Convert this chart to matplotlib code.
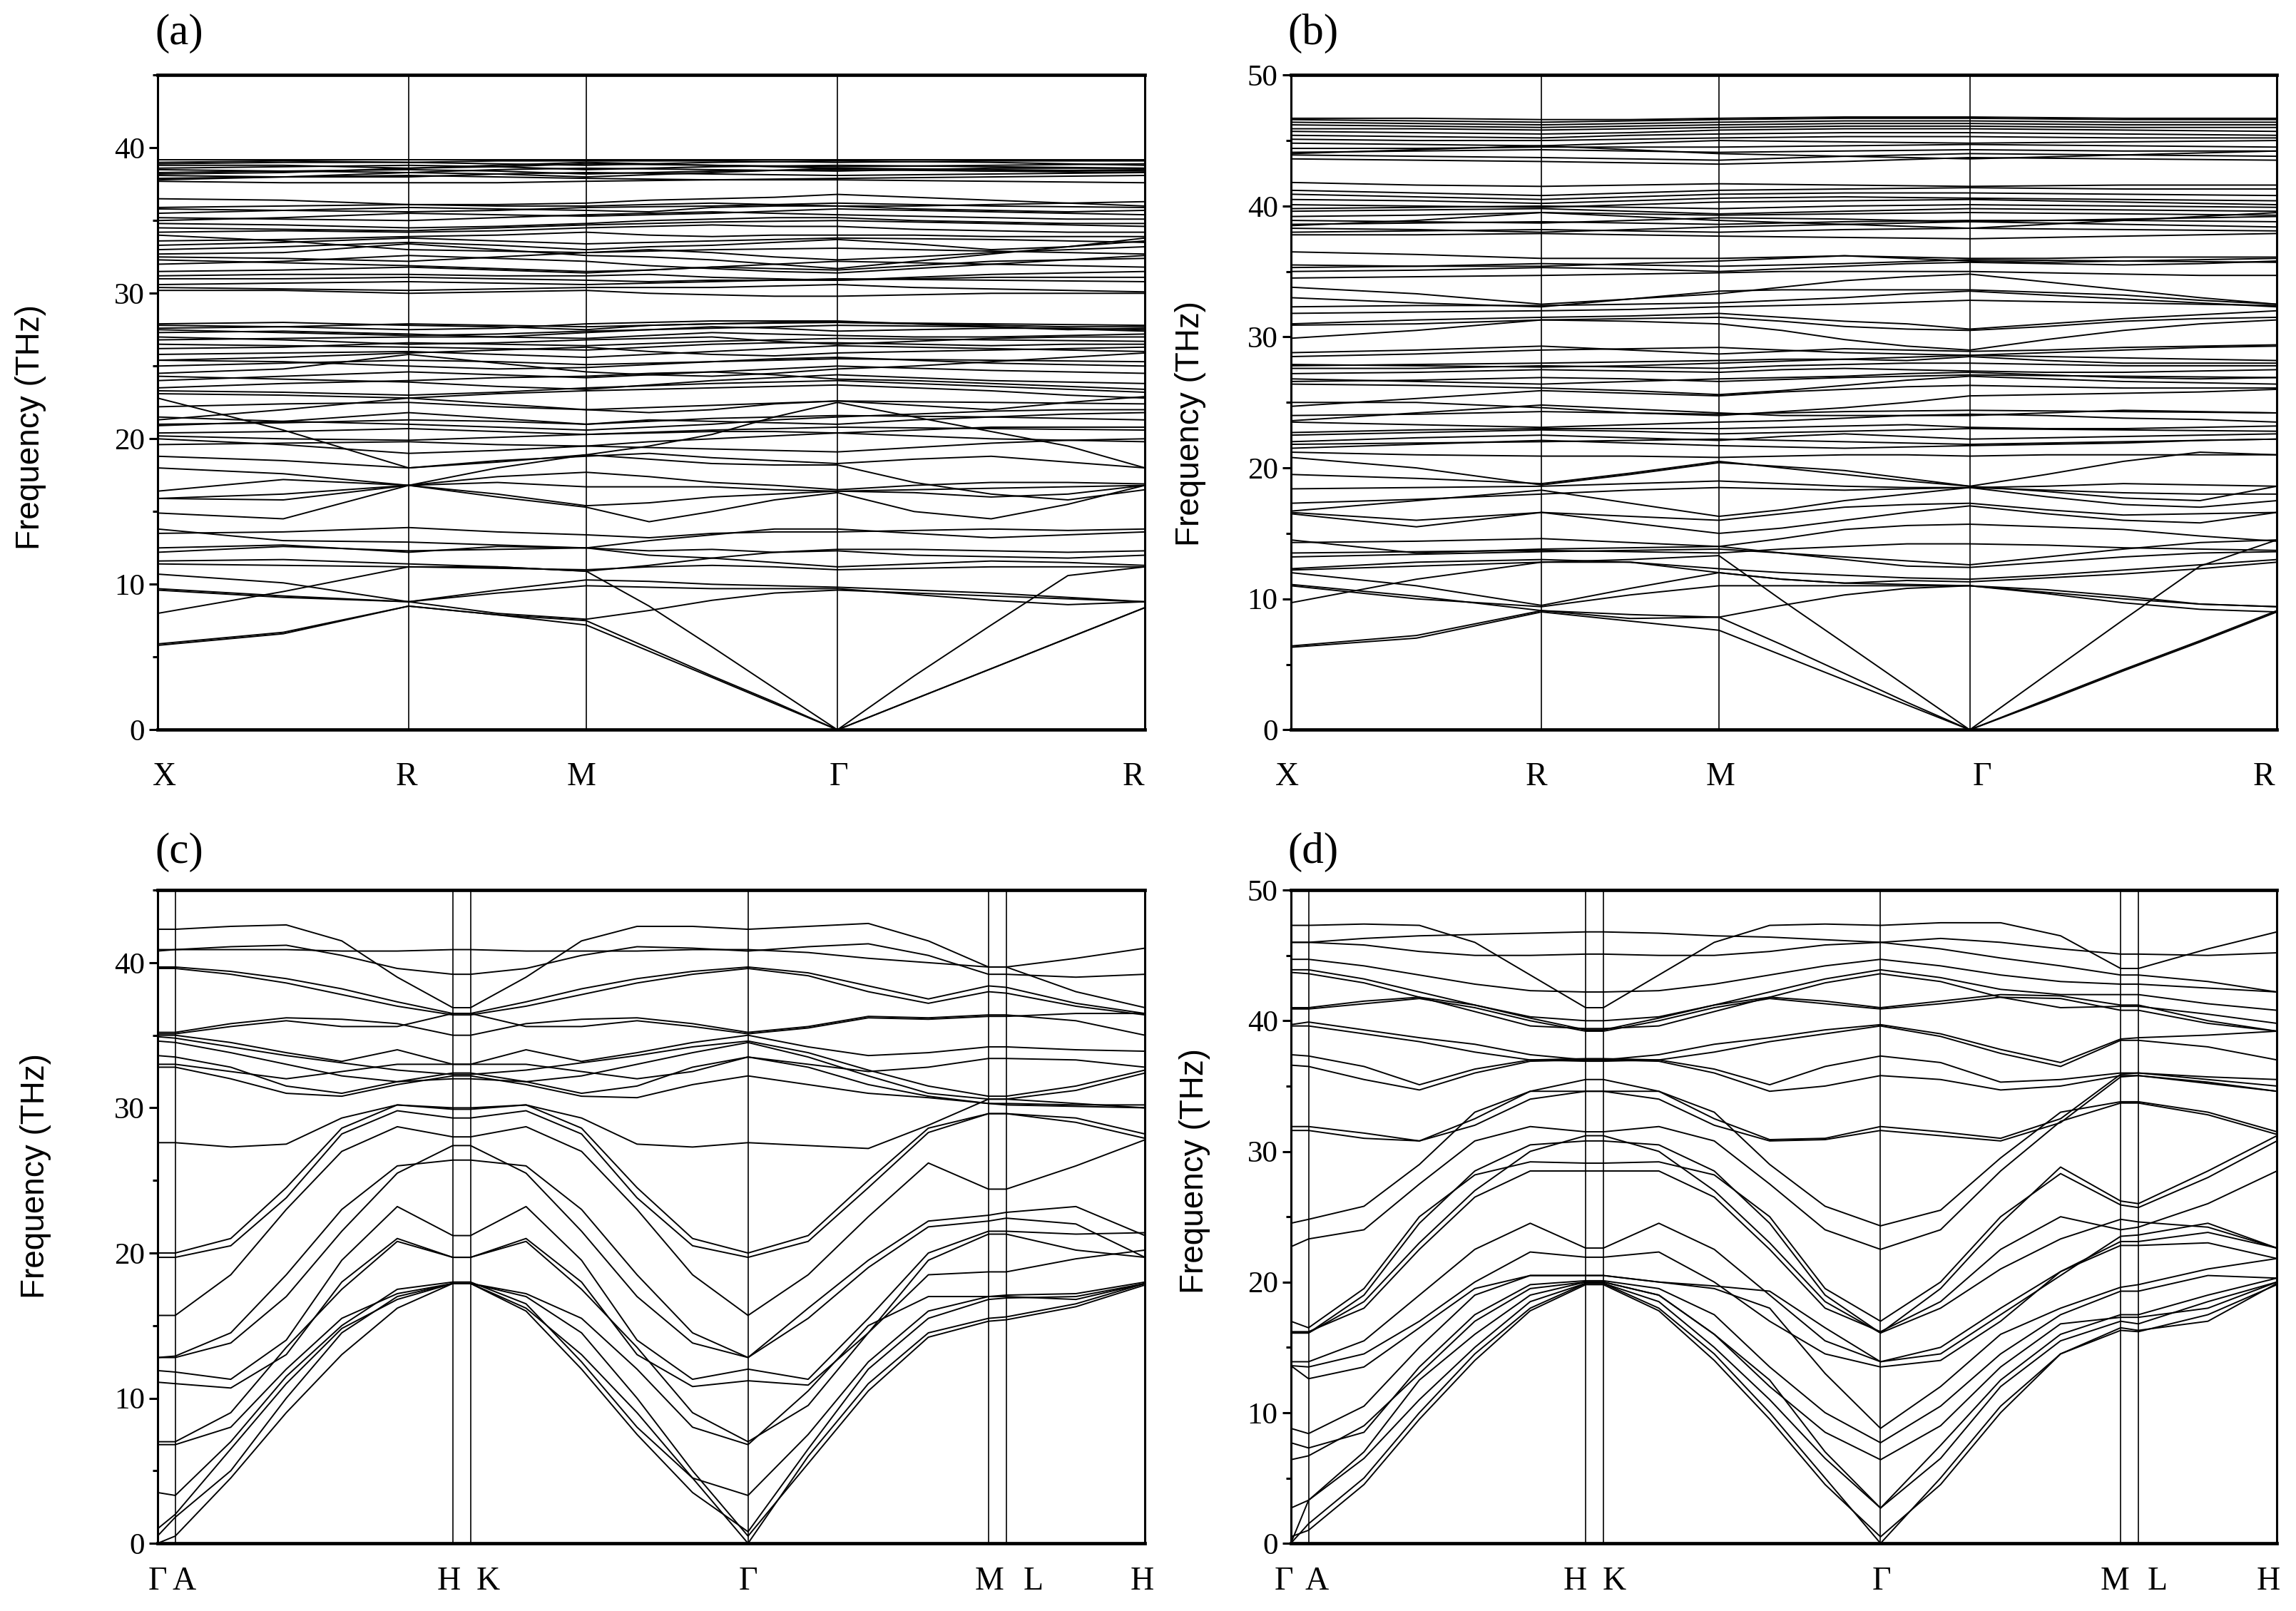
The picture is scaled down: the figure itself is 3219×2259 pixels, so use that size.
import matplotlib
matplotlib.use("Agg")
import matplotlib.pyplot as plt
from matplotlib.ticker import MultipleLocator

plt.rcParams['font.family'] = ['Liberation Serif', 'DejaVu Serif']

# ---------------- panel (a)/(b): cubic path X-R-M-G-R ----------------
k_cub_sym = [0.0, 0.707, 1.207, 1.914, 2.780]
lab_cub = ['X', 'R', 'M', 'Γ', 'R']
lab_cub_pos_a = [0.007, 0.252, 0.429, 0.690, 0.988]
lab_cub_pos_b = [-0.004, 0.249, 0.436, 0.701, 0.987]
k13 = [0.0, 0.354, 0.707, 0.957, 1.207, 1.384, 1.561, 1.737, 1.914, 2.130, 2.347, 2.563, 2.780]
k9 = [0.0, 0.354, 0.707, 0.957, 1.207, 1.561, 1.914, 2.347, 2.780]

bands_a = [
    [5.8,6.6,8.5,7.9,7.2,5.4,3.6,1.8,0.0,2.1,4.2,6.3,8.4],
    [5.9,6.7,8.5,7.9,7.5,5.6,3.7,1.9,0.0,2.1,4.2,6.3,8.4],
    [8.0,9.5,11.2,11.2,10.9,8.5,5.7,2.85,0.0,3.7,7.2,10.6,11.2],
    [9.7,9.2,8.8,9.4,9.9,9.8,9.7,9.7,9.7,9.3,8.9,8.6,8.8],
    [9.6,9.1,8.8,9.6,10.3,10.2,10.0,9.9,9.8,9.6,9.4,9.1,8.8],
    [10.7,10.1,8.8,8.0,7.6,8.2,8.9,9.4,9.6,9.4,9.2,9.0,8.8],
    [11.4,11.3,11.2,11.1,11.0,11.2,11.3,11.2,11.0,11.1,11.2,11.2,11.2],
    [11.6,11.7,11.4,11.2,10.9,11.3,11.8,11.5,11.2,11.4,11.6,11.5,11.3],
    [12.2,12.6,12.3,12.4,12.5,12.3,12.4,12.2,12.3,12.0,11.9,11.8,12.0],
    [12.5,12.7,12.2,12.6,12.5,12.0,11.8,12.2,12.4,12.4,12.3,12.2,12.3],
    [13.5,13.6,13.9,13.6,13.4,13.2,13.5,13.6,13.6,13.7,13.8,13.7,13.8],
    [13.8,13.0,12.9,12.7,12.5,13.0,13.4,13.8,13.8,13.5,13.2,13.4,13.6],
    [14.9,14.5,16.8,16.0,15.3,14.3,15.0,15.8,16.3,15.0,14.5,15.5,16.8],
    [15.9,15.8,16.8,16.2,15.4,15.6,16.0,16.2,16.4,16.3,16.0,16.2,16.8],
    [15.9,16.2,16.8,17.0,16.7,16.7,16.7,16.5,16.4,16.5,16.6,16.7,16.8],
    [16.4,17.2,16.8,17.4,17.7,17.4,17.0,16.8,16.5,16.8,17.0,17.0,16.9],
    [18.0,17.6,16.8,18.0,18.9,18.6,18.3,18.2,18.2,17.0,16.2,15.8,16.5],
    [18.8,18.5,18.0,18.5,18.8,19.0,18.7,18.5,18.3,18.6,18.8,18.4,18.0],
    [19.6,19.7,19.8,19.6,19.5,19.4,19.3,19.2,19.1,19.4,19.7,19.9,20.0],
    [20.4,20.5,20.7,20.5,20.3,20.4,20.5,20.5,20.4,20.6,20.8,20.8,20.8],
    [20.9,21.2,21.8,21.4,21.0,21.3,21.2,21.1,21.0,21.3,21.5,21.7,21.8],
    [21.3,22.0,22.8,22.4,22.0,21.8,22.0,22.4,22.6,22.3,22.0,22.5,22.9],
    [22.8,20.6,18.0,18.4,18.9,19.5,20.3,21.5,22.5,21.5,20.5,19.5,18.0],
    [23.1,23.0,22.8,23.1,23.3,23.4,23.5,23.6,23.7,23.5,23.3,23.0,22.8],
    [24.3,24.1,23.9,23.6,23.4,23.7,24.0,24.2,24.4,24.2,24.0,23.9,23.8],
    [24.5,24.8,25.8,25.2,24.6,24.4,24.3,24.5,24.8,25.0,25.3,25.6,25.9],
    [25.4,25.3,25.0,24.8,24.9,25.1,25.3,25.5,25.6,25.4,25.2,25.1,25.0],
    [25.4,25.6,25.9,26.1,26.3,26.0,25.8,25.7,25.9,26.0,26.1,26.2,26.3],
    [26.5,26.4,26.3,26.2,26.1,26.3,26.5,26.6,26.6,26.5,26.4,26.5,26.5],
    [26.8,26.9,27.0,27.0,26.9,27.1,27.3,27.2,27.1,27.0,27.0,27.1,27.2],
    [27.3,27.4,27.2,27.0,27.3,27.5,27.7,27.6,27.4,27.5,27.6,27.6,27.5],
    [27.8,27.7,27.5,27.6,27.9,28.0,28.1,28.1,28.1,27.9,27.8,27.7,27.7],
    [27.9,28.0,27.8,27.7,27.5,27.8,27.9,28.0,28.0,27.9,27.7,27.5,27.6],
    [27.0,26.8,26.5,26.6,26.8,26.9,27.0,26.7,26.5,26.7,26.9,27.0,27.0],
    [23.5,23.8,24.0,24.2,24.3,24.5,24.6,24.4,24.1,24.0,23.8,23.6,23.4],
    [21.5,21.2,21.0,20.8,20.6,20.8,21.0,21.3,21.5,21.7,21.9,22.0,22.0],
    [20.0,19.6,19.0,19.2,19.5,19.8,20.0,20.2,20.4,20.2,20.0,19.9,19.8],
    [30.2,30.2,30.0,30.1,30.2,30.0,29.9,29.8,29.8,29.9,30.0,30.0,30.0],
    [30.4,30.3,30.2,30.3,30.4,30.4,30.4,30.5,30.6,30.4,30.3,30.2,30.1],
    [31.0,31.0,31.1,31.0,30.9,30.8,30.9,30.9,30.9,31.0,31.1,31.1,31.1],
    [31.2,31.3,31.3,31.2,31.2,31.3,31.1,31.0,30.9,31.1,31.3,31.4,31.5],
    [32.3,32.1,31.9,31.7,31.5,31.6,31.8,31.7,31.6,31.9,32.2,32.3,32.4],
    [32.7,32.8,33.4,33.0,32.6,32.5,32.3,32.0,31.7,32.2,32.7,33.2,33.6],
    [33.0,33.2,33.5,33.3,33.0,33.2,33.3,33.5,33.7,33.4,33.0,33.2,33.8],
    [33.6,33.7,33.9,34.0,34.2,34.0,33.9,34.0,34.0,34.0,33.9,33.9,33.9],
    [34.2,34.3,34.2,34.3,34.5,34.6,34.7,34.6,34.6,34.4,34.3,34.2,34.2],
    [34.8,34.7,34.5,34.6,34.8,35.0,35.1,35.2,35.2,35.0,34.9,34.8,34.8],
    [35.2,35.1,35.0,35.2,35.4,35.5,35.6,35.5,35.4,35.3,35.2,35.1,35.1],
    [35.5,35.7,35.9,35.8,35.7,35.6,35.9,36.0,36.0,35.8,35.7,35.6,35.7],
    [35.9,36.0,36.1,36.1,36.2,36.4,36.5,36.6,36.8,36.6,36.4,36.2,36.0],
    [36.5,36.4,36.1,36.0,36.0,36.1,36.2,36.1,36.0,36.0,36.1,36.2,36.3],
    [34.0,33.6,33.0,32.9,32.8,33.0,32.8,32.5,32.3,32.5,32.8,33.0,33.2],
    [32.0,32.2,32.6,32.4,32.2,31.9,31.7,31.5,31.4,31.7,32.0,32.3,32.6],
]
flat_a = [
    [37.7,37.6,37.6,37.6,37.7,37.8,37.8,37.7,37.6],
    [37.9,38.0,38.1,38.0,37.9,37.8,37.9,38.0,38.1],
    [38.1,38.0,38.0,38.2,38.3,38.2,38.1,38.2,38.3],
    [38.3,38.4,38.5,38.4,38.2,38.4,38.5,38.4,38.3],
    [38.5,38.4,38.3,38.5,38.6,38.5,38.4,38.6,38.6],
    [38.6,38.7,38.8,38.7,38.5,38.7,38.8,38.7,38.6],
    [38.8,38.8,38.6,38.7,38.9,38.8,38.7,38.8,38.9],
    [38.9,39.0,39.0,38.9,38.8,39.0,39.1,39.0,38.8],
    [39.0,39.1,39.0,39.1,39.1,39.1,39.0,39.1,39.1],
    [39.2,39.2,39.2,39.2,39.2,39.2,39.2,39.2,39.2],
    [37.8,38.0,38.3,38.2,38.0,38.3,38.6,38.5,38.4],
    [38.2,38.3,38.6,38.8,39.0,38.8,38.6,38.4,38.5],
    [20.2,20.0,19.9,20.1,20.3,20.6,20.8,20.7,20.6],
    [21.0,21.1,21.3,21.2,21.0,21.4,21.6,21.5,21.3],
    [22.2,22.4,22.5,22.2,22.0,22.3,22.6,22.5,22.4],
    [23.3,23.2,23.0,23.2,23.5,23.8,24.0,23.6,23.2],
    [24.0,24.3,24.6,24.4,24.2,24.6,25.0,24.7,24.5],
    [25.0,25.2,25.4,25.3,25.1,25.3,25.5,25.4,25.3],
    [25.8,25.9,26.0,25.8,25.6,26.0,26.4,26.2,26.0],
    [26.2,26.3,26.6,26.5,26.4,26.7,26.9,26.8,26.7],
    [27.5,27.3,27.1,27.2,27.4,27.6,27.8,27.7,27.4],
    [27.6,27.7,27.9,27.8,27.7,27.9,28.0,27.9,27.8],
    [30.6,30.7,30.8,30.7,30.6,30.8,31.0,30.9,30.8],
    [31.5,31.6,31.8,31.6,31.4,31.8,32.2,32.0,31.8],
    [32.5,32.4,32.2,32.5,32.8,33.0,33.1,32.9,32.7],
    [33.3,33.5,33.8,33.6,33.4,33.6,33.8,33.7,33.5],
    [34.5,34.4,34.3,34.5,34.7,34.9,35.0,34.8,34.6],
    [35.0,35.2,35.5,35.4,35.3,35.5,35.8,35.6,35.4],
    [35.8,35.7,35.6,35.7,35.9,36.0,36.2,36.0,35.9],
]

bands_b = [
    [6.3,7.0,9.0,8.3,7.6,5.7,3.8,1.9,0.0,2.2,4.5,6.7,9.0],
    [6.4,7.2,9.1,8.8,8.6,6.5,4.3,2.1,0.0,2.3,4.6,6.8,9.1],
    [9.7,11.5,12.8,13.0,13.3,9.9,6.6,3.3,0.0,4.2,8.4,12.5,14.5],
    [11.0,10.0,9.4,10.3,11.0,11.0,11.0,11.0,11.0,10.5,10.0,9.6,9.4],
    [11.1,10.2,9.1,8.5,8.6,9.5,10.3,10.8,11.0,10.4,9.7,9.2,9.0],
    [12.0,11.0,9.5,10.8,12.0,11.5,11.2,11.1,11.0,10.7,10.2,9.6,9.4],
    [12.2,12.5,12.8,12.8,12.0,11.5,11.2,11.4,11.3,11.6,11.9,12.3,12.8],
    [12.3,12.8,13.0,12.8,12.3,12.0,11.8,11.6,11.5,11.8,12.2,12.6,13.0],
    [13.2,13.4,13.6,13.7,13.8,13.5,13.0,12.5,12.4,12.8,13.2,13.5,13.6],
    [13.5,13.6,13.7,13.6,13.5,13.8,14.0,14.2,14.2,14.1,13.9,13.8,13.7],
    [14.3,14.4,14.6,14.3,14.0,13.5,13.2,12.9,12.6,13.2,13.8,14.3,14.5],
    [14.5,13.5,13.8,13.9,14.0,14.6,15.3,15.6,15.7,15.5,15.3,14.8,14.4],
    [16.5,15.5,16.6,16.3,16.0,16.5,17.0,17.2,17.3,16.8,16.4,16.5,16.6],
    [16.6,16.0,16.6,15.8,15.0,15.4,16.0,16.6,17.1,16.5,16.0,15.8,16.6],
    [16.7,17.5,18.3,17.3,16.3,16.8,17.5,18.0,18.5,17.8,17.2,17.0,17.5],
    [17.3,17.6,18.0,18.3,18.5,18.4,18.3,18.4,18.5,18.3,18.1,18.0,18.0],
    [18.4,18.5,18.6,18.8,19.0,18.8,18.6,18.5,18.5,18.6,18.8,18.7,18.6],
    [19.5,19.2,18.8,19.6,20.5,20.0,19.5,19.0,18.6,19.5,20.5,21.2,21.0],
    [20.8,20.0,18.7,19.5,20.4,20.1,19.8,19.2,18.6,18.2,17.7,17.5,18.6],
    [21.2,21.0,20.9,20.9,20.8,20.9,21.0,21.0,20.9,21.0,21.0,21.0,21.0],
    [21.5,21.8,22.1,21.9,21.7,21.6,21.5,21.6,21.7,21.8,21.9,22.1,22.2],
    [22.0,22.3,22.5,22.3,22.1,22.4,22.6,22.4,22.2,22.3,22.4,22.5,22.6],
    [22.7,22.9,23.0,23.0,23.0,23.1,23.2,23.3,23.1,23.0,23.0,23.1,23.2],
    [23.5,23.3,23.1,23.3,23.5,23.6,23.8,24.0,24.1,24.0,23.8,23.7,23.5],
    [23.6,24.2,24.8,24.5,24.2,24.0,24.0,24.0,24.0,24.2,24.4,24.3,24.2],
    [24.7,25.3,25.9,25.7,25.5,25.8,26.0,26.2,26.3,26.2,26.1,26.1,26.1],
    [25.0,25.0,24.6,24.2,24.0,24.3,24.6,25.0,25.5,25.6,25.7,25.8,26.0],
    [26.4,26.3,26.1,25.9,25.6,25.9,26.3,26.7,27.0,26.8,26.6,26.5,26.4],
    [26.8,26.6,26.4,26.6,26.8,26.9,27.0,27.2,27.3,27.1,26.9,26.8,26.9],
    [27.2,27.3,27.5,27.4,27.3,27.5,27.6,27.5,27.4,27.3,27.3,27.4,27.5],
    [27.6,27.6,27.8,27.7,27.6,27.8,27.9,28.0,28.0,27.9,27.8,27.8,27.8],
    [27.8,27.9,28.0,28.1,28.2,28.3,28.3,28.2,28.5,28.2,28.0,28.0,28.0],
    [28.5,28.7,29.0,29.1,29.2,29.0,28.8,28.7,28.6,28.8,29.0,29.2,29.3],
    [28.8,29.0,29.3,29.0,28.7,28.9,29.1,29.0,28.9,29.0,29.2,29.3,29.4],
    [29.9,30.5,31.3,31.2,31.0,30.5,29.8,29.3,29.0,29.8,30.5,31.0,31.3],
    [30.9,31.0,31.3,31.4,31.5,31.2,30.8,30.6,30.5,30.8,31.2,31.4,31.5],
    [31.0,31.3,31.5,31.6,31.8,31.5,31.2,31.0,30.6,31.0,31.4,31.7,32.0],
    [32.3,32.4,32.4,32.5,32.6,32.8,33.0,33.3,33.5,33.2,32.9,32.6,32.3],
    [33.0,32.6,32.3,32.9,33.5,33.6,33.6,33.6,33.6,33.4,33.2,32.8,32.5],
    [33.8,33.3,32.5,32.9,33.3,33.8,34.3,34.6,34.8,34.2,33.6,33.0,32.5],
    [34.5,34.6,34.7,34.8,34.9,35.0,35.0,35.0,35.0,34.9,34.8,34.7,34.7],
    [35.0,35.1,35.3,35.2,35.0,35.2,35.4,35.6,35.7,35.6,35.5,35.6,35.8],
    [35.5,35.4,35.4,35.6,35.8,36.0,36.2,36.0,35.8,35.7,35.8,35.9,36.0],
    [36.5,36.3,36.0,36.0,36.0,36.1,36.2,36.1,36.0,36.0,36.1,36.1,36.1],
]
flat_b = [
    [37.8,37.8,37.9,37.8,37.7,37.6,37.5,37.7,37.9],
    [38.0,38.1,38.2,38.1,38.0,38.2,38.3,38.2,38.1],
    [38.3,38.2,38.0,38.2,38.4,38.6,38.8,38.6,38.4],
    [38.6,38.7,38.8,38.7,38.6,38.8,38.9,38.9,38.8],
    [38.9,38.8,38.7,38.9,39.1,39.0,38.8,39.0,39.2],
    [39.2,39.3,39.5,39.4,39.3,39.4,39.5,39.4,39.3],
    [39.6,39.7,39.8,39.6,39.4,39.6,39.8,39.7,39.6],
    [39.8,39.9,40.0,39.9,39.8,40.0,40.1,40.0,39.9],
    [40.1,40.0,39.9,40.1,40.3,40.4,40.5,40.3,40.1],
    [40.5,40.4,40.2,40.4,40.6,40.7,40.6,40.5,40.4],
    [40.9,40.7,40.5,40.7,40.9,41.0,41.0,40.9,40.8],
    [41.2,41.0,40.8,41.0,41.2,41.3,41.4,41.3,41.3],
    [41.8,41.6,41.5,41.6,41.7,41.6,41.5,41.6,41.6],
    [38.5,38.9,39.5,39.2,38.9,38.6,38.3,38.9,39.5],
    [43.6,43.5,43.4,43.3,43.2,43.4,43.7,43.6,43.5],
    [43.9,43.8,43.7,43.6,43.5,43.8,44.0,43.9,43.8],
    [44.1,44.2,44.3,44.2,44.1,44.2,44.3,44.2,44.2],
    [44.4,44.4,44.5,44.5,44.5,44.6,44.7,44.6,44.5],
    [44.8,44.7,44.6,44.8,45.0,44.9,44.8,44.9,45.0],
    [45.1,45.0,45.0,45.1,45.2,45.3,45.3,45.2,45.2],
    [45.4,45.3,45.2,45.4,45.5,45.6,45.6,45.5,45.4],
    [45.7,45.6,45.5,45.6,45.8,45.9,45.9,45.8,45.7],
    [45.9,45.9,45.8,45.9,46.0,46.1,46.1,46.0,46.0],
    [46.2,46.1,46.0,46.1,46.2,46.3,46.3,46.2,46.2],
    [46.4,46.3,46.2,46.3,46.4,46.5,46.5,46.4,46.4],
    [46.6,46.5,46.4,46.5,46.6,46.7,46.7,46.6,46.6],
    [46.7,46.7,46.6,46.6,46.7,46.8,46.8,46.7,46.7],
    [44.0,44.3,44.6,44.3,44.0,43.8,43.6,43.9,44.2],
    [21.8,21.9,22.0,22.1,22.2,22.0,21.8,22.0,22.2],
    [22.5,22.7,22.9,22.8,22.6,22.8,23.0,22.9,22.8],
    [24.0,24.1,24.3,24.2,24.1,24.3,24.4,24.3,24.2],
    [26.6,26.7,26.9,26.8,26.6,26.9,27.1,27.0,26.9],
    [27.9,27.8,27.7,27.8,28.0,28.3,28.6,28.4,28.2],
    [35.3,35.4,35.6,35.5,35.4,35.6,35.9,35.8,35.7],
    [31.8,31.9,32.0,32.1,32.3,32.5,32.8,32.6,32.4],
]

# ---------------- panel (c)/(d): hexagonal path G-A-H-K-G-M-L-H ----------------
k_hex_sym = [0.0, 0.018, 0.299, 0.317, 0.598, 0.8415, 0.8595, 1.0]
lab_hex = ['Γ', 'A', 'H', 'K', 'Γ', 'M', 'L', 'H']
lab_hex_pos_c = [0.0, 0.027, 0.295, 0.335, 0.598, 0.842, 0.887, 0.997]
lab_hex_pos_d = [-0.007, 0.026, 0.288, 0.328, 0.599, 0.836, 0.879, 0.991]
k20 = [0.0, 0.018, 0.0742, 0.1304, 0.1866, 0.2428, 0.299, 0.317, 0.3732, 0.4294,
       0.4856, 0.5418, 0.598, 0.6589, 0.7198, 0.7806, 0.8415, 0.8595, 0.93, 1.0]

bands_c = [
    [42.3,42.3,42.5,42.6,41.5,39.0,36.9,36.9,39.0,41.5,42.5,42.5,42.3,42.5,42.7,41.5,39.7,39.7,38.0,36.9],
    [40.9,40.9,40.9,40.9,40.8,40.8,40.9,40.9,40.8,40.8,40.8,40.9,40.9,40.7,40.3,40.0,39.7,39.7,40.3,41.0],
    [40.8,40.9,41.1,41.2,40.5,39.6,39.2,39.2,39.6,40.5,41.1,41.0,40.8,41.1,41.3,40.5,39.2,39.2,39.0,39.2],
    [39.7,39.7,39.4,38.9,38.2,37.3,36.5,36.5,37.3,38.2,38.9,39.4,39.7,39.3,38.4,37.5,38.4,38.3,37.2,36.5],
    [39.6,39.6,39.2,38.6,37.8,37.0,36.4,36.4,37.0,37.8,38.6,39.2,39.6,39.1,38.0,37.2,38.0,37.9,37.0,36.4],
    [35.2,35.2,35.8,36.2,36.1,35.8,35.0,35.0,35.8,36.1,36.2,35.8,35.2,35.6,36.3,36.2,36.4,36.4,36.0,35.0],
    [35.1,35.1,35.6,36.0,35.6,35.6,36.5,36.5,35.6,35.6,36.0,35.6,35.1,35.5,36.2,36.1,36.3,36.3,36.5,36.5],
    [34.9,34.8,34.2,33.6,33.1,32.6,32.3,32.3,32.6,33.1,33.6,34.2,34.6,33.8,32.6,31.5,30.8,30.8,31.5,32.6],
    [34.6,34.5,33.8,33.0,32.2,31.8,32.0,32.0,31.8,32.2,33.0,33.8,34.5,33.5,32.2,31.0,30.6,30.6,31.2,32.4],
    [33.6,33.5,32.8,31.5,31.0,31.8,32.4,32.4,31.8,31.0,31.5,32.8,33.5,32.8,31.6,30.8,30.3,30.3,30.2,30.2],
    [32.8,32.8,32.0,31.0,30.8,31.6,32.2,32.2,31.6,30.8,30.7,31.6,32.2,31.6,31.0,30.7,30.3,30.2,30.1,30.0],
    [35.0,35.0,34.5,33.8,33.2,34.0,33.0,33.0,34.0,33.2,33.8,34.5,35.0,34.2,33.6,33.8,34.2,34.2,34.0,33.9],
    [33.0,33.0,32.5,32.0,32.5,33.0,33.0,33.0,33.0,32.5,32.0,32.5,33.5,33.0,32.5,32.8,33.4,33.4,33.3,32.8],
    [27.6,27.6,27.3,27.5,29.3,30.2,30.0,30.0,30.2,29.3,27.5,27.3,27.6,27.4,27.2,28.8,30.6,30.6,30.3,30.0],
    [20.0,20.0,21.0,24.5,28.6,30.2,29.9,29.9,30.2,28.6,24.5,21.0,20.0,21.2,25.0,28.6,29.6,29.6,29.3,28.2],
    [19.7,19.7,20.5,23.8,28.2,29.8,29.3,29.3,29.8,28.2,23.8,20.5,19.7,20.8,24.5,28.3,29.6,29.6,29.0,27.9],
    [15.7,15.7,18.5,23.0,27.0,28.7,28.0,28.0,28.7,27.0,23.0,18.5,15.7,18.5,22.5,26.2,24.4,24.4,26.0,27.8],
    [12.8,12.8,13.8,17.0,21.5,25.5,27.4,27.4,25.5,21.5,17.0,13.8,12.8,16.2,19.5,22.2,22.6,22.8,23.2,21.2],
    [12.8,12.9,14.5,18.5,23.0,26.0,26.4,26.4,26.0,23.0,18.5,14.5,12.8,15.5,19.0,21.8,22.2,22.4,22.0,19.7],
    [11.9,11.8,11.3,14.0,19.5,23.2,21.2,21.2,23.2,19.5,14.0,11.3,12.0,11.3,15.5,20.0,21.5,21.5,21.3,21.4],
    [11.1,11.0,10.7,13.0,18.0,21.0,19.7,19.7,21.0,18.0,13.0,10.8,11.2,10.9,14.5,19.5,21.3,21.3,20.2,19.7],
    [7.0,7.0,9.0,13.5,17.5,20.8,19.7,19.7,20.8,17.5,13.5,9.0,7.0,9.5,14.5,18.5,18.7,18.7,19.6,20.2],
    [6.8,6.8,8.0,12.0,15.5,17.2,17.9,17.9,17.2,15.5,12.0,8.0,6.8,10.5,15.0,17.0,17.0,17.0,16.8,17.9],
    [0.0,0.5,4.5,9.0,13.0,16.2,17.9,17.9,16.2,13.0,9.0,4.5,0.0,6.0,11.0,14.5,15.5,15.6,16.5,17.9],
    [0.5,1.8,5.0,10.0,14.5,17.0,17.9,17.9,17.0,14.5,10.0,5.0,0.5,5.5,10.5,14.2,15.3,15.4,16.3,17.8],
    [3.5,3.3,7.0,11.5,15.0,17.5,18.0,18.0,16.5,12.5,8.0,4.5,3.3,7.5,12.5,16.0,17.0,17.1,17.2,18.0],
    [1.0,2.0,6.5,11.0,14.8,16.8,17.9,17.9,16.0,12.0,7.5,3.5,0.8,6.5,12.0,15.5,16.8,16.9,17.0,17.9],
]

bands_d = [
    [47.3,47.3,47.4,47.3,46.0,43.5,41.0,41.0,43.5,46.0,47.3,47.4,47.3,47.5,47.5,46.5,44.0,44.0,45.5,46.8],
    [46.0,46.0,46.3,46.5,46.6,46.7,46.8,46.8,46.7,46.5,46.4,46.2,46.0,46.3,46.0,45.5,45.1,45.1,45.0,45.2],
    [46.0,46.0,45.8,45.3,45.0,45.0,45.1,45.1,45.0,45.0,45.3,45.8,46.0,45.5,44.8,44.2,43.5,43.5,43.0,42.2],
    [44.7,44.7,44.2,43.5,42.8,42.3,42.2,42.2,42.3,42.8,43.5,44.2,44.7,44.2,43.5,43.0,42.8,42.8,42.5,42.2],
    [43.9,43.9,43.2,42.2,41.2,40.3,40.0,40.0,40.3,41.2,42.2,43.2,43.9,43.3,42.4,42.0,42.0,42.0,41.3,40.8],
    [43.7,43.6,42.9,41.8,40.7,39.6,39.4,39.4,39.6,40.7,41.8,42.9,43.6,43.0,41.8,41.0,41.1,41.1,40.5,39.8],
    [41.0,41.0,41.5,41.8,41.2,40.2,39.3,39.3,40.2,41.2,41.8,41.5,41.0,41.5,42.0,41.9,41.2,41.2,40.0,39.2],
    [40.9,40.9,41.3,41.7,41.0,40.0,39.2,39.2,40.0,41.0,41.7,41.3,40.9,41.3,41.8,41.7,40.8,40.8,39.8,39.2],
    [39.7,39.9,39.3,38.7,38.2,37.4,37.0,37.0,37.4,38.2,38.7,39.3,39.7,39.0,37.8,36.8,38.6,38.7,38.9,39.2],
    [39.6,39.6,39.0,38.4,37.6,37.0,36.9,36.9,37.0,37.6,38.4,39.0,39.6,38.8,37.5,36.5,38.5,38.5,38.0,37.0],
    [37.4,37.3,36.5,35.1,36.3,37.0,37.1,37.1,37.0,36.3,35.1,36.5,37.3,36.8,35.3,35.5,36.0,36.0,35.5,35.0],
    [36.6,36.5,35.5,34.7,36.0,36.9,37.0,37.0,36.9,36.0,34.6,35.0,35.8,35.5,34.7,35.0,35.8,35.8,35.2,34.6],
    [31.9,31.9,31.4,30.8,32.5,34.6,35.5,35.5,34.6,32.5,30.9,31.0,31.9,31.5,31.0,32.5,35.9,36.0,35.7,35.5],
    [31.6,31.6,31.0,30.8,32.0,34.0,34.6,34.6,34.0,32.0,30.8,30.9,31.6,31.2,30.8,32.2,35.7,35.8,35.3,34.6],
    [24.5,24.8,25.8,29.0,33.0,34.6,34.6,34.6,34.6,33.0,29.0,25.8,24.3,25.5,29.5,33.0,33.8,33.8,33.0,31.5],
    [22.7,23.3,24.0,27.5,30.8,31.9,31.5,31.5,31.9,30.8,27.5,24.0,22.5,24.0,28.5,32.3,33.7,33.7,32.8,31.3],
    [16.1,16.1,18.5,23.0,27.0,30.0,31.2,31.2,30.0,27.0,23.0,18.5,16.1,18.0,21.0,23.3,24.8,24.6,24.2,22.6],
    [16.1,16.1,19.0,24.5,28.5,30.5,30.8,30.8,30.5,28.5,24.5,19.0,16.1,19.5,24.5,28.8,26.2,26.0,28.5,31.2],
    [17.0,16.5,19.5,25.0,28.2,29.2,29.1,29.1,29.2,28.2,25.0,19.5,17.0,20.0,25.0,28.3,25.9,25.7,28.0,30.8],
    [16.2,16.2,18.0,22.5,26.5,28.5,28.5,28.5,28.5,26.5,22.5,18.0,16.2,18.5,22.5,25.0,24.0,24.2,26.0,28.5],
    [13.9,13.9,15.5,19.0,22.5,24.5,22.6,22.6,24.5,22.5,19.0,15.5,13.9,14.5,17.5,20.5,23.5,23.6,24.5,22.6],
    [13.6,13.5,14.5,17.0,20.0,22.3,21.9,21.9,22.3,20.0,17.0,14.5,13.5,14.0,17.0,20.8,23.1,23.1,23.8,22.6],
    [13.6,12.6,13.5,16.5,19.5,20.5,20.5,20.5,20.0,19.7,19.3,16.5,13.9,15.0,18.0,20.8,22.8,22.8,23.0,21.8],
    [8.8,8.4,10.5,15.0,19.0,20.5,20.5,20.5,20.0,19.5,18.0,13.0,8.8,12.0,16.0,18.0,19.6,19.8,21.0,21.8],
    [7.7,7.3,8.5,13.5,17.5,19.8,20.1,20.1,19.5,17.5,13.5,10.0,7.7,10.5,14.5,17.5,19.3,19.3,20.5,20.3],
    [6.4,6.7,9.0,13.0,17.0,19.5,20.0,20.0,19.0,16.0,12.0,8.5,6.4,9.0,13.5,16.8,17.3,17.3,18.0,20.0],
    [0.0,1.5,5.0,10.0,14.5,18.0,19.9,19.9,18.0,14.5,10.0,5.0,0.0,5.0,10.5,14.5,16.5,16.3,17.0,19.9],
    [0.0,3.3,6.5,11.0,15.0,18.5,19.9,19.9,18.5,15.0,11.0,6.5,2.7,6.5,12.0,15.5,17.0,16.8,18.5,20.0],
    [2.7,3.3,7.0,12.5,16.0,19.0,20.0,20.0,19.0,16.0,12.5,7.0,2.7,7.5,12.5,16.0,17.5,17.5,19.0,20.3],
    [0.5,1.0,4.5,9.5,14.0,17.8,19.8,19.8,17.8,14.0,9.5,4.5,0.5,4.5,10.0,14.5,16.3,16.2,17.5,19.8],
]

y_max = {'a': 45, 'b': 50, 'c': 45, 'd': 50}
panel_letters = ['(a)', '(b)', '(c)', '(d)']

# ---------------- figure ----------------
fig = plt.figure(figsize=(32.19, 22.59), dpi=100)
rects = {
    'a': [0.0686, 0.547, 0.4301, 0.4064],
    'b': [0.5622, 0.547, 0.4295, 0.4064],
    'c': [0.0686, 0.042, 0.4301, 0.4055],
    'd': [0.5622, 0.042, 0.4295, 0.4055],
}
TICK_FS = 31
LW = 1.4


def style_axes(ax, ymax, ksym, kmax):
    ax.set_xlim(0, kmax)
    ax.set_ylim(0, ymax)
    for x in ksym[1:-1]:
        ax.axvline(x, color='black', lw=1.2, zorder=1)
    ax.set_xticks([])
    ax.yaxis.set_major_locator(MultipleLocator(10))
    ax.yaxis.set_minor_locator(MultipleLocator(5))
    ax.tick_params(axis='y', which='major', direction='out', length=9, width=2.2,
                   labelsize=TICK_FS, pad=4)
    ax.tick_params(axis='y', which='minor', direction='out', length=5, width=2.2)
    for s in ['left', 'right']:
        ax.spines[s].set_linewidth(2.2)
    for s in ['top', 'bottom']:
        ax.spines[s].set_linewidth(3.4)


def put_labels(ax, labels, positions, yoff):
    for lab, p in zip(labels, positions):
        ax.text(p, yoff, lab, transform=ax.transAxes, ha='center', va='center',
                fontsize=TICK_FS + 2, family=['Liberation Serif', 'DejaVu Serif'])


kmax_cub = k_cub_sym[-1]
kmax_hex = k_hex_sym[-1]

axa = fig.add_axes(rects['a'])
for b in bands_a:
    axa.plot(k13, b, color='black', lw=LW)
for b in flat_a:
    axa.plot(k9, b, color='black', lw=LW)
style_axes(axa, y_max['a'], k_cub_sym, kmax_cub)
put_labels(axa, lab_cub, lab_cub_pos_a, -0.072)

axb = fig.add_axes(rects['b'])
for b in bands_b:
    axb.plot(k13, b, color='black', lw=LW)
for b in flat_b:
    axb.plot(k9, b, color='black', lw=LW)
style_axes(axb, y_max['b'], k_cub_sym, kmax_cub)
put_labels(axb, lab_cub, lab_cub_pos_b, -0.072)

axc = fig.add_axes(rects['c'])
for b in bands_c:
    axc.plot(k20, b, color='black', lw=LW)
style_axes(axc, y_max['c'], k_hex_sym, kmax_hex)
put_labels(axc, lab_hex, lab_hex_pos_c, -0.059)

axd = fig.add_axes(rects['d'])
for b in bands_d:
    axd.plot(k20, b, color='black', lw=LW)
style_axes(axd, y_max['d'], k_hex_sym, kmax_hex)
put_labels(axd, lab_hex, lab_hex_pos_d, -0.059)

# panel letters
fig.text(0.0675, 0.979, panel_letters[0], fontsize=44, ha='left', va='center')
fig.text(0.5610, 0.979, panel_letters[1], fontsize=44, ha='left', va='center')
fig.text(0.0675, 0.471, panel_letters[2], fontsize=44, ha='left', va='center')
fig.text(0.5610, 0.471, panel_letters[3], fontsize=44, ha='left', va='center')

# y labels
ylab = 'Frequency (THz)'
yfam = ['Liberation Sans', 'DejaVu Sans']
fig.text(0.0135, 0.735, ylab, rotation=90, ha='center', va='center', fontsize=33, family=yfam)
fig.text(0.5185, 0.737, ylab, rotation=90, ha='center', va='center', fontsize=33, family=yfam)
fig.text(0.0155, 0.270, ylab, rotation=90, ha='center', va='center', fontsize=33, family=yfam)
fig.text(0.5205, 0.273, ylab, rotation=90, ha='center', va='center', fontsize=33, family=yfam)

fig.savefig('out.png', dpi=100)
